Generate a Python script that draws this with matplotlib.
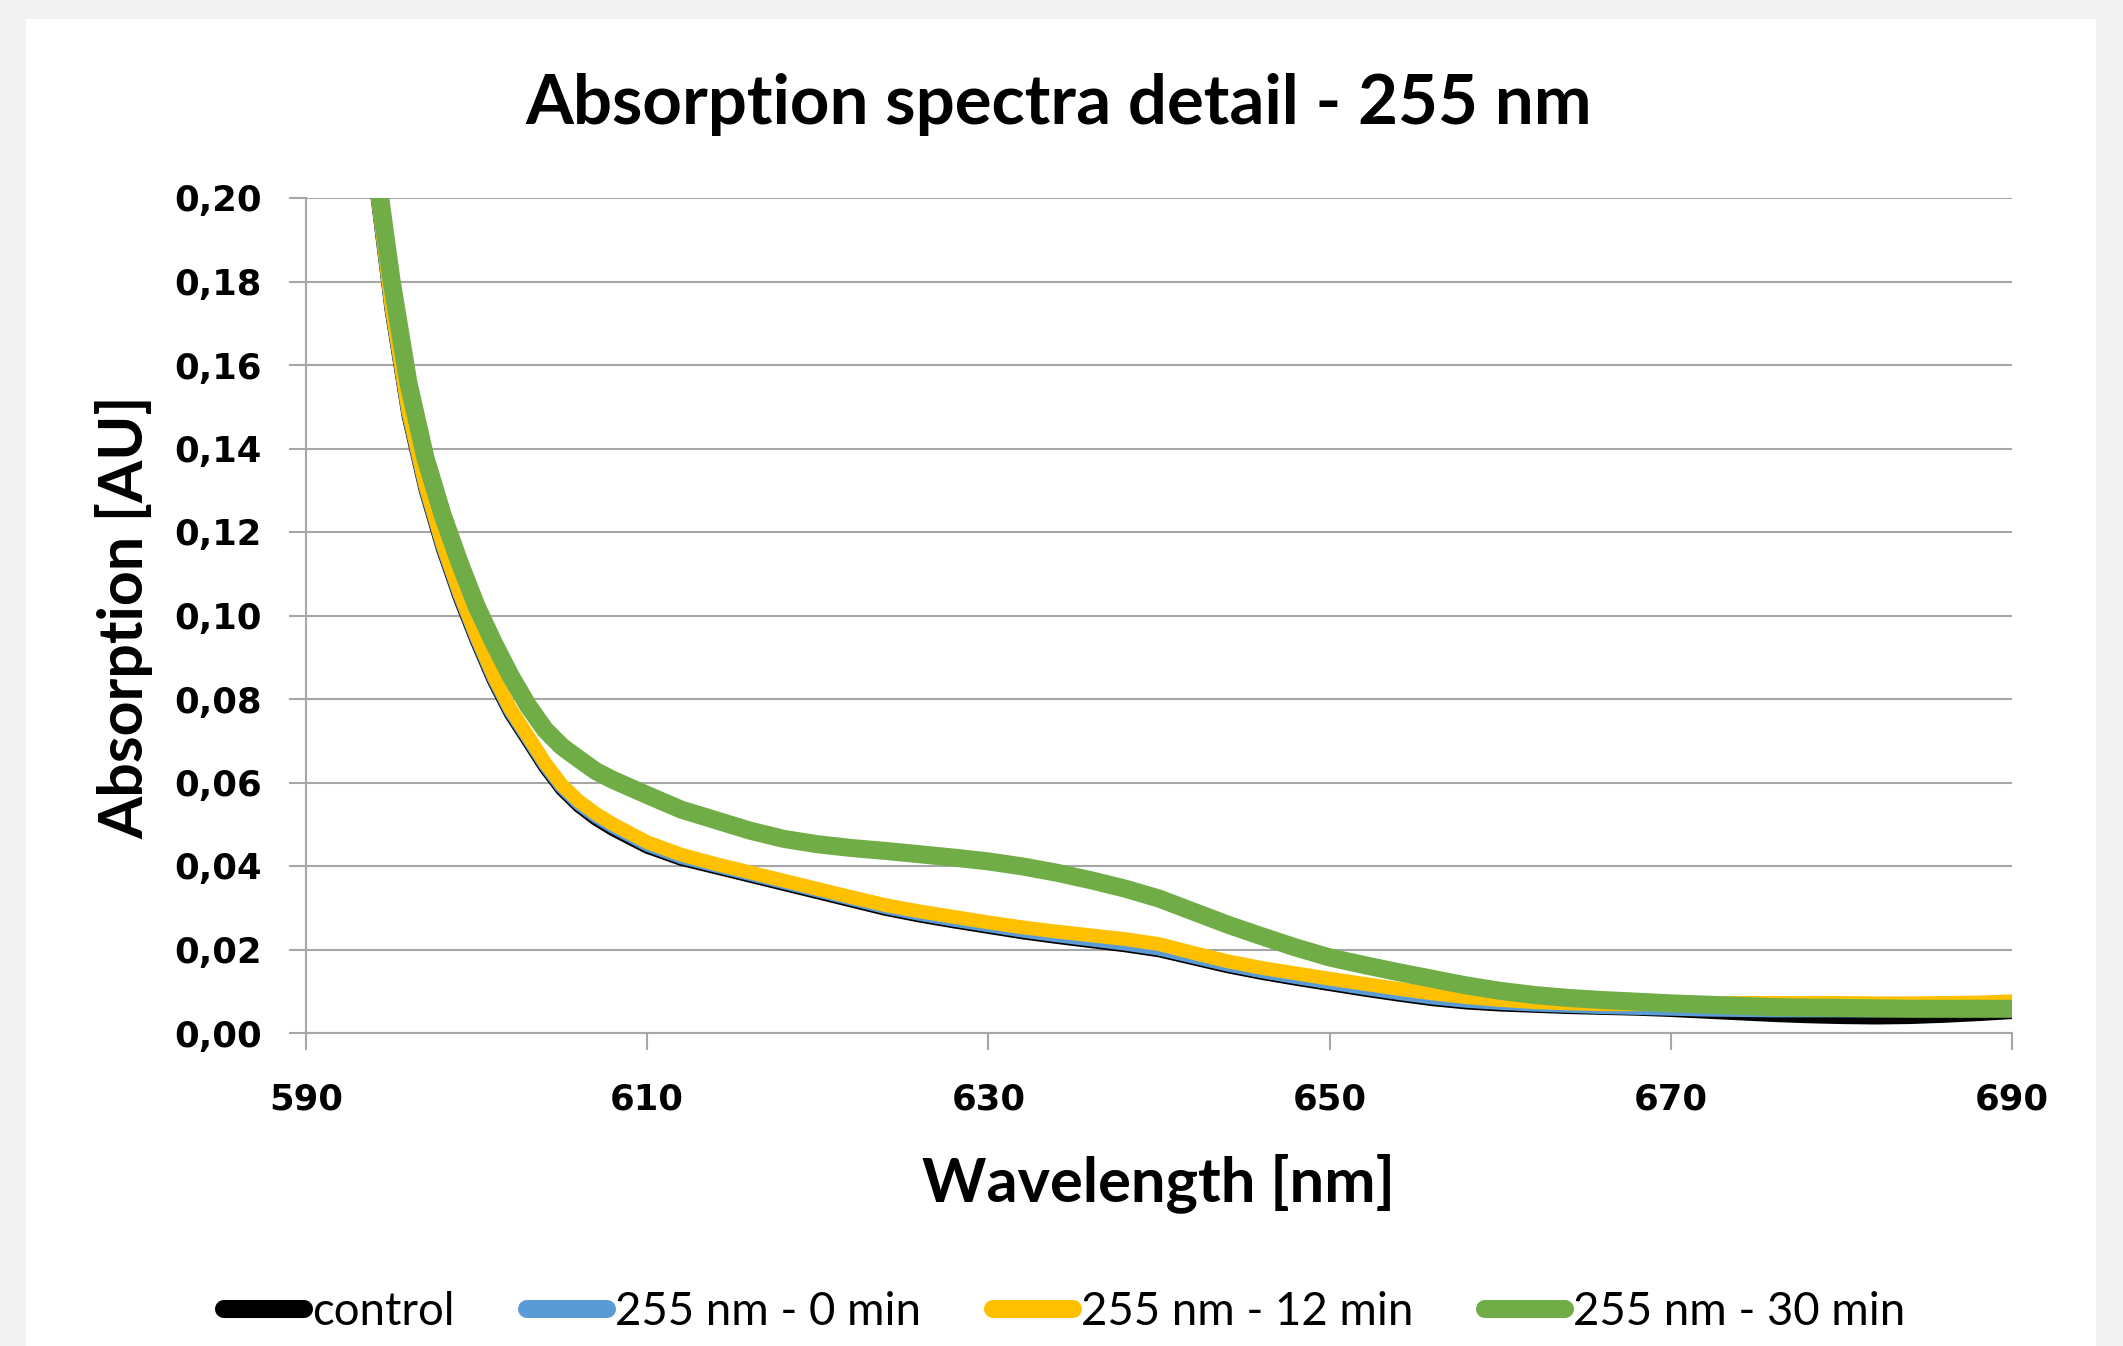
import matplotlib
matplotlib.use("Agg")
import matplotlib.pyplot as plt
from matplotlib.patches import Rectangle
from matplotlib.lines import Line2D
from matplotlib.ticker import FixedLocator, FuncFormatter

# ---------------- data ----------------
wavelength = [593, 594, 595, 596, 597, 598, 599, 600, 601, 602, 603, 604, 605, 606, 607, 608,
              610, 612, 614, 616, 618, 620, 622, 624, 626, 628, 630, 632, 634, 636, 638, 640,
              642, 644, 646, 648, 650, 652, 654, 656, 658, 660, 662, 664, 666, 668, 670, 672,
              674, 676, 678, 680, 682, 684, 686, 688, 690]

control = [0.241, 0.2065, 0.1735, 0.148, 0.1302, 0.1162, 0.1044, 0.094, 0.0845, 0.0765, 0.0702, 0.0638,
           0.0584, 0.0544, 0.0513, 0.0488,
           0.0446, 0.0417, 0.0397, 0.0377, 0.0357, 0.0337, 0.0317, 0.0297, 0.0281, 0.0267, 0.0254,
           0.0241, 0.023, 0.022, 0.021, 0.0198,
           0.0179, 0.016, 0.0144, 0.013, 0.0117, 0.0104, 0.0092, 0.0081, 0.0073, 0.0068, 0.0065,
           0.0062, 0.006, 0.0058, 0.0055, 0.0051,
           0.0047, 0.0043, 0.004, 0.0038, 0.0037, 0.0038, 0.0041, 0.0045, 0.005]

min_0 = [0.242, 0.207, 0.174, 0.1485, 0.1307, 0.1167, 0.1049, 0.0945, 0.085, 0.077, 0.0707, 0.0643,
         0.0589, 0.0549, 0.0519, 0.0494,
         0.0451, 0.0421, 0.0401, 0.0381, 0.0361, 0.0341, 0.0321, 0.0301, 0.0285, 0.0271, 0.0258,
         0.0245, 0.0234, 0.0224, 0.0214, 0.0202,
         0.0183, 0.0164, 0.0148, 0.0134, 0.0121, 0.0108, 0.0096, 0.0085, 0.0077, 0.0072, 0.0068,
         0.0065, 0.0062, 0.006, 0.0058, 0.0056,
         0.0055, 0.0054, 0.0054, 0.0054, 0.0054, 0.0055, 0.0056, 0.0057, 0.0058]

min_12 = [0.243, 0.2075, 0.1745, 0.149, 0.1312, 0.1172, 0.1054, 0.095, 0.0855, 0.0775, 0.0712, 0.0648,
          0.0594, 0.0555, 0.0525, 0.05,
          0.0457, 0.0427, 0.0405, 0.0385, 0.0365, 0.0345, 0.0325, 0.0306, 0.0291, 0.0278, 0.0265,
          0.0253, 0.0243, 0.0234, 0.0225, 0.0213,
          0.0192, 0.0172, 0.0156, 0.0143, 0.013, 0.0118, 0.0106, 0.0095, 0.0086, 0.0079, 0.0074,
          0.0071, 0.0069, 0.0069, 0.007, 0.0071,
          0.0072, 0.0072, 0.0072, 0.0072, 0.0071, 0.0071, 0.0072, 0.0073, 0.0076]

min_30 = [0.240, 0.2105, 0.1806, 0.1558, 0.1378, 0.1242, 0.1127, 0.1022, 0.0935, 0.0855, 0.0785, 0.0727,
          0.0686, 0.0656, 0.0627, 0.0606,
          0.057, 0.0535, 0.051, 0.0485, 0.0465, 0.0452, 0.0443, 0.0436, 0.0428, 0.042, 0.0411,
          0.0399, 0.0384, 0.0366, 0.0346, 0.0322,
          0.0291, 0.026, 0.0232, 0.0205, 0.0181, 0.0163, 0.0146, 0.013, 0.0114, 0.0101, 0.0091,
          0.0084, 0.0079, 0.0075, 0.0071, 0.0068,
          0.0065, 0.0062, 0.0061, 0.006, 0.0059, 0.0058, 0.0058, 0.0058, 0.0058]

series_labels = ["control", "255 nm - 0 min", "255 nm - 12 min", "255 nm - 30 min"]
series_colors = ["#000000", "#5b9bd5", "#ffc000", "#70ad47"]
x_ticks = [590, 610, 630, 650, 670, 690]
y_ticks = [0.00, 0.02, 0.04, 0.06, 0.08, 0.10, 0.12, 0.14, 0.16, 0.18, 0.20]

title_text = "Absorption spectra detail - 255 nm"
xlabel_text = "Wavelength [nm]"
ylabel_text = "Absorption [AU]"

# ---------------- figure ----------------
W, H = 2123, 1346
DPI = 100
fig = plt.figure(figsize=(W / DPI, H / DPI), dpi=DPI, facecolor="#f2f2f2")
fig.patches.append(Rectangle((26 / W, 0), (2096 - 26) / W, 1 - 19 / H,
                             transform=fig.transFigure, facecolor="white",
                             edgecolor="none", zorder=-10))

ax_l, ax_r, ax_t, ax_b = 306, 2012, 198, 1033
ax = fig.add_axes([ax_l / W, 1 - ax_b / H, (ax_r - ax_l) / W, (ax_b - ax_t) / H])
ax.set_zorder(5)
ax.set_facecolor("none")

all_series = [control, min_0, min_12, min_30]
widths = [10.0, 10.0, 10.0, 13.0]
for vals, lab, col, lw in zip(all_series, series_labels, series_colors, widths):
    ax.plot(wavelength, vals, color=col, lw=lw, label=lab,
            solid_capstyle="round", solid_joinstyle="round", zorder=3)

ax.set_xlim(590, 690)
ax.set_ylim(0, 0.20)
ax.xaxis.set_major_locator(FixedLocator(x_ticks))
ax.yaxis.set_major_locator(FixedLocator(y_ticks))
ax.yaxis.set_major_formatter(FuncFormatter(lambda v, p: f"{v:.2f}".replace(".", ",")))
ax.xaxis.set_major_formatter(FuncFormatter(lambda v, p: f"{v:.0f}"))

grid_col = "#a6a6a6"
ax.grid(axis="y", color=grid_col, lw=1.5, zorder=1)
ax.set_axisbelow(True)
for s in ["top", "right"]:
    ax.spines[s].set_visible(False)
for s in ["left", "bottom"]:
    ax.spines[s].set_color(grid_col)
    ax.spines[s].set_linewidth(1.5)
ax.tick_params(axis="both", direction="out", length=12, width=1.5, color=grid_col,
               labelsize=25.5, labelcolor="black")
ax.tick_params(axis="y", pad=20)
ax.tick_params(axis="x", pad=24)
for t in ax.get_xticklabels() + ax.get_yticklabels():
    t.set_fontfamily("DejaVu Sans")
    t.set_fontweight("bold")

cal = "Lato"
title = fig.text(1059 / W, 1 - 105 / H, title_text, ha="center", va="center",
                 fontsize=48, fontweight="bold", family=cal)
xl = fig.text(1158 / W, 1 - 1183 / H, xlabel_text, ha="center", va="center",
              fontsize=34, fontweight="bold", family=cal)
yl = fig.text(124 / W, 1 - 617 / H, ylabel_text, ha="center", va="center",
              rotation=90, fontsize=34, fontweight="bold", family=cal)


def fit(t, target, vertical=False):
    fig.canvas.draw()
    bb = t.get_window_extent()
    w = bb.height if vertical else bb.width
    t.set_fontsize(t.get_fontsize() * target / w)


fit(title, 1068)
fit(xl, 473)
fit(yl, 444, vertical=True)

# legend font fitted to the longest label
probe = fig.text(0, 0, series_labels[3], fontsize=30, family=cal)
fig.canvas.draw()
fs = 30 * 332 / probe.get_window_extent().width
probe.remove()
fs_px = fs * DPI / 72
handles = [Line2D([], [], color=c, lw=13, solid_capstyle="round") for c in series_colors]
leg = fig.legend(handles, series_labels, loc="center",
                 bbox_to_anchor=(1065 / W, 1 - 1312 / H), ncol=4,
                 frameon=False, prop={"family": cal, "size": fs},
                 handlelength=80 / fs_px, handletextpad=8 / fs_px,
                 columnspacing=72 / fs_px, borderpad=0)

fig.savefig("out.png", dpi=DPI, facecolor=fig.get_facecolor())
